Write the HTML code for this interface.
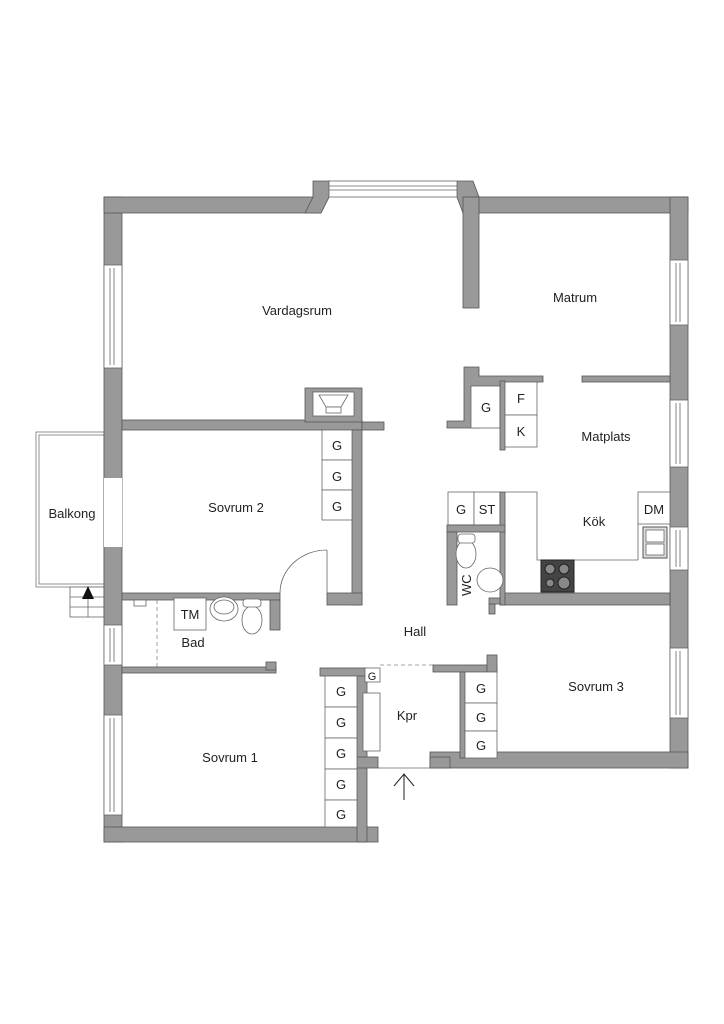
<!DOCTYPE html>
<html><head><meta charset="utf-8"><style>
html,body{margin:0;padding:0;background:#fff}
svg{display:block}
text{font-family:"Liberation Sans",sans-serif;font-size:13px;fill:#222}
.w{fill:#999;stroke:#555;stroke-width:0.8}
.b{fill:#fff;stroke:#666;stroke-width:0.8}
.win{fill:#fff;stroke:#666;stroke-width:0.8}
.l{stroke:#666;stroke-width:0.8;fill:none}
</style></head><body>
<svg width="724" height="1024" viewBox="0 0 724 1024" xmlns="http://www.w3.org/2000/svg">
<!-- Balcony -->
<rect x="36" y="432" width="68" height="155" fill="none" stroke="#777" stroke-width="0.8"/>
<rect x="39" y="435" width="65" height="149" fill="none" stroke="#777" stroke-width="0.8"/>
<rect x="70" y="587" width="34" height="30" class="b"/>
<line x1="70" y1="597" x2="104" y2="597" class="l"/>
<line x1="70" y1="607" x2="104" y2="607" class="l"/>
<line x1="88" y1="587" x2="88" y2="617" class="l"/>
<polygon points="88,586 82,599 94,599" fill="#111"/>

<!-- Outer walls -->
<rect x="104" y="197" width="18" height="645" class="w"/>
<rect x="104" y="197" width="211" height="16" class="w"/>
<polygon points="315,197 329,181 329,197 321,213 315,213" class="w"/>
<polygon points="313,181 329,181 329,197 321,213 305,213 313,197" class="w"/>
<polygon points="457,181 473,181 479,197 479,213 463,213 457,197" class="w"/>
<rect x="476" y="197" width="212" height="16" class="w"/>
<rect x="463" y="197" width="16" height="111" class="w"/>
<rect x="670" y="197" width="18" height="571" class="w"/>
<rect x="430" y="752" width="258" height="16" class="w"/>
<rect x="104" y="827" width="274" height="15" class="w"/>
<rect x="357" y="673" width="10" height="169" class="w"/>
<rect x="357" y="757" width="21" height="11" class="w"/>
<!-- bay window -->
<rect x="329" y="181" width="128" height="16" class="win"/>
<line x1="329" y1="186" x2="457" y2="186" class="l"/><line x1="329" y1="190" x2="457" y2="190" class="l"/>
<!-- left windows / openings -->
<rect x="104" y="265" width="18" height="103" class="win"/><line x1="110" y1="268" x2="110" y2="365" class="l"/><line x1="114" y1="268" x2="114" y2="365" class="l"/>
<rect x="104" y="478" width="18" height="69" fill="#fff"/>
<rect x="104" y="625" width="18" height="40" class="win"/><line x1="110" y1="628" x2="110" y2="662" class="l"/><line x1="114" y1="628" x2="114" y2="662" class="l"/>
<rect x="104" y="715" width="18" height="100" class="win"/><line x1="110" y1="718" x2="110" y2="812" class="l"/><line x1="114" y1="718" x2="114" y2="812" class="l"/>
<!-- right windows -->
<rect x="670" y="260" width="18" height="65" class="win"/><line x1="676" y1="263" x2="676" y2="322" class="l"/><line x1="680" y1="263" x2="680" y2="322" class="l"/>
<rect x="670" y="400" width="18" height="67" class="win"/><line x1="676" y1="403" x2="676" y2="464" class="l"/><line x1="680" y1="403" x2="680" y2="464" class="l"/>
<rect x="670" y="527" width="18" height="43" class="win"/><line x1="676" y1="530" x2="676" y2="567" class="l"/><line x1="680" y1="530" x2="680" y2="567" class="l"/>
<rect x="670" y="648" width="18" height="70" class="win"/><line x1="676" y1="651" x2="676" y2="715" class="l"/><line x1="680" y1="651" x2="680" y2="715" class="l"/>

<!-- Vardagsrum bottom / fireplace -->
<rect x="122" y="420" width="240" height="10" class="w"/>
<rect x="305" y="388" width="57" height="34" class="w"/>
<rect x="313" y="392" width="41" height="24" class="b"/>
<polygon points="319,395 348,395 341,407 326,407" class="b"/>
<rect x="326" y="407" width="15" height="6" class="b"/>
<rect x="362" y="422" width="22" height="8" class="w"/>
<!-- Sovrum 2 -->
<rect x="352" y="430" width="10" height="175" class="w"/>
<rect x="327" y="593" width="35" height="12" class="w"/>
<rect x="322" y="430" width="30" height="30" class="b"/><rect x="322" y="460" width="30" height="30" class="b"/><rect x="322" y="490" width="30" height="30" class="b"/>
<text x="337" y="450" text-anchor="middle">G</text><text x="337" y="481" text-anchor="middle">G</text><text x="337" y="511" text-anchor="middle">G</text>
<rect x="122" y="593" width="158" height="7" class="w"/>
<rect x="270" y="600" width="10" height="30" class="w"/>
<line x1="327" y1="550" x2="327" y2="593" class="l"/>
<path d="M327,550 A47,43 0 0 0 280,593" class="l"/>
<!-- Bad -->
<line x1="157" y1="600" x2="157" y2="667" stroke="#888" stroke-width="0.8" stroke-dasharray="4,3"/>
<rect x="174" y="598" width="32" height="32" class="b"/>
<ellipse cx="224" cy="609" rx="14" ry="12" class="b"/><ellipse cx="224" cy="607" rx="10" ry="7" class="b"/>
<ellipse cx="252" cy="620" rx="10" ry="14" class="b"/><rect x="243" y="599" width="18" height="8" rx="3" class="b"/>
<rect x="134" y="600" width="12" height="6" class="b"/>
<rect x="122" y="667" width="154" height="6" class="w"/>
<rect x="266" y="662" width="10" height="8" class="w"/>
<!-- Sovrum 1 G -->
<rect x="320" y="668" width="47" height="8" class="w"/>
<rect x="325" y="676" width="32" height="31" class="b"/><rect x="325" y="707" width="32" height="31" class="b"/><rect x="325" y="738" width="32" height="31" class="b"/><rect x="325" y="769" width="32" height="31" class="b"/><rect x="325" y="800" width="32" height="27" class="b"/>
<text x="341" y="696" text-anchor="middle">G</text><text x="341" y="727" text-anchor="middle">G</text><text x="341" y="758" text-anchor="middle">G</text><text x="341" y="789" text-anchor="middle">G</text><text x="341" y="819" text-anchor="middle">G</text>
<!-- Kpr -->
<rect x="365" y="668" width="15" height="14" class="b"/><text x="372" y="680" text-anchor="middle" style="font-size:11px">G</text>
<rect x="363" y="693" width="17" height="58" class="b"/>
<line x1="380" y1="665" x2="433" y2="665" stroke="#888" stroke-width="0.8" stroke-dasharray="4,3"/>
<rect x="433" y="665" width="64" height="7" class="w"/>
<rect x="487" y="655" width="10" height="17" class="w"/>
<rect x="460" y="672" width="5" height="86" class="w"/>
<rect x="430" y="757" width="20" height="11" class="w"/>
<line x1="378" y1="768" x2="430" y2="768" class="l"/>
<line x1="404" y1="800" x2="404" y2="774" stroke="#222" stroke-width="1"/>
<polyline points="394,786 404,774 414,786" fill="none" stroke="#222" stroke-width="1"/>
<!-- Sovrum 3 G -->
<rect x="465" y="672" width="32" height="31" class="b"/><rect x="465" y="703" width="32" height="28" class="b"/><rect x="465" y="731" width="32" height="27" class="b"/>
<text x="481" y="693" text-anchor="middle">G</text><text x="481" y="722" text-anchor="middle">G</text><text x="481" y="750" text-anchor="middle">G</text>
<!-- Kitchen/Sovrum3 wall -->
<rect x="500" y="593" width="170" height="12" class="w"/>
<!-- WC -->
<rect x="448" y="492" width="26" height="33" class="b"/><rect x="474" y="492" width="26" height="33" class="b"/>
<text x="461" y="514" text-anchor="middle">G</text><text x="487" y="514" text-anchor="middle">ST</text>
<rect x="500" y="492" width="5" height="113" class="w"/>
<rect x="447" y="525" width="58" height="7" class="w"/>
<rect x="447" y="532" width="10" height="73" class="w"/>
<rect x="489" y="598" width="11" height="6" class="w"/><rect x="489" y="604" width="6" height="10" class="w"/>
<ellipse cx="466" cy="554" rx="10" ry="14" class="b"/><rect x="458" y="534" width="17" height="9" rx="3" class="b"/>
<ellipse cx="490" cy="580" rx="13" ry="12" class="b"/>
<text x="0" y="0" transform="translate(471,596) rotate(-90)">WC</text>
<!-- Kitchen counters -->
<polyline points="505,492 537,492 537,560 638,560" class="l"/>
<rect x="541" y="560" width="33" height="32" fill="#444" stroke="#222"/>
<circle cx="550" cy="569" r="5" fill="#888" stroke="#222"/><circle cx="564" cy="569" r="5" fill="#888" stroke="#222"/><circle cx="550" cy="583" r="4" fill="#888" stroke="#222"/><circle cx="564" cy="583" r="6" fill="#888" stroke="#222"/>
<rect x="638" y="492" width="32" height="32" class="b"/><text x="654" y="514" text-anchor="middle">DM</text>
<polyline points="638,524 638,560" class="l"/>
<rect x="643" y="527" width="24" height="31" fill="#ddd" stroke="#555"/>
<rect x="646" y="530" width="18" height="12" class="b"/><rect x="646" y="544" width="18" height="11" class="b"/>
<!-- Matplats cabinet -->
<polygon points="464,367 479,367 479,376 543,376 543,382 505,382 505,386 479,386 479,428 447,428 447,421 464,421" class="w"/>
<rect x="471" y="386" width="29" height="42" class="b"/><text x="486" y="412" text-anchor="middle">G</text>
<rect x="500" y="381" width="5" height="69" class="w"/>
<rect x="505" y="382" width="32" height="33" class="b"/><rect x="505" y="415" width="32" height="32" class="b"/>
<text x="521" y="403" text-anchor="middle">F</text><text x="521" y="436" text-anchor="middle">K</text>
<rect x="582" y="376" width="88" height="6" class="w"/>
<!-- Labels -->
<text x="297" y="315" text-anchor="middle">Vardagsrum</text>
<text x="575" y="302" text-anchor="middle">Matrum</text>
<text x="606" y="441" text-anchor="middle">Matplats</text>
<text x="236" y="512" text-anchor="middle">Sovrum 2</text>
<text x="72" y="518" text-anchor="middle">Balkong</text>
<text x="594" y="526" text-anchor="middle">Kök</text>
<text x="190" y="619" text-anchor="middle">TM</text>
<text x="193" y="647" text-anchor="middle">Bad</text>
<text x="415" y="636" text-anchor="middle">Hall</text>
<text x="596" y="691" text-anchor="middle">Sovrum 3</text>
<text x="407" y="720" text-anchor="middle">Kpr</text>
<text x="230" y="762" text-anchor="middle">Sovrum 1</text>
</svg>
</body></html>
